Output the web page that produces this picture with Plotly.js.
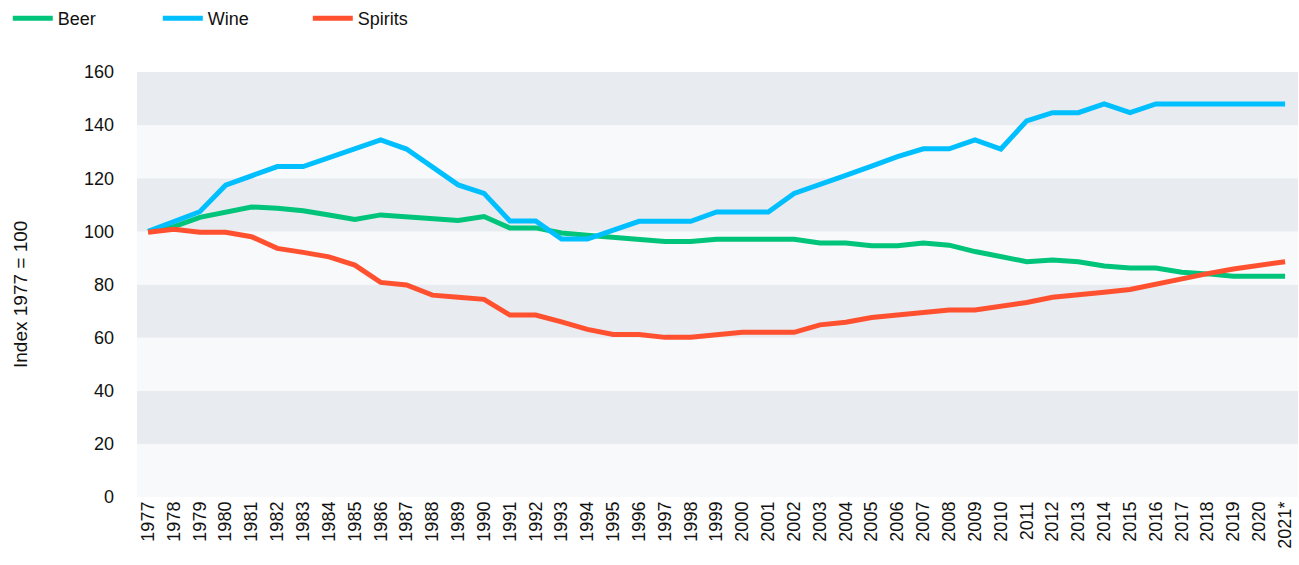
<!DOCTYPE html>
<html><head><meta charset="utf-8">
<script src="https://cdn.plot.ly/plotly-3.0.1.min.js"></script>
<style>html,body{margin:0;padding:0;background:#fff}#chart{width:1299px;height:565px}</style>
</head><body><div id="chart"></div>
<script>
const years = ["1977","1978","1979","1980","1981","1982","1983","1984","1985","1986","1987","1988","1989","1990","1991","1992","1993","1994","1995","1996","1997","1998","1999","2000","2001","2002","2003","2004","2005","2006","2007","2008","2009","2010","2011","2012","2013","2014","2015","2016","2017","2018","2019","2020","2021*"];
const beer = [100,101.8,105.3,107.4,109.2,108.7,107.8,106.2,104.5,106.2,105.6,104.7,104.1,105.6,101.3,101.3,99.4,98.5,97.8,97.2,96.2,96.2,97,97,97,97,95.6,95.6,94.6,94.6,95.6,94.8,92.4,90.3,88.6,89.2,88.6,87,86.2,86.2,84.6,84,83.1,83.1,83.1];
const wine = [100,103.8,107.4,117.4,120.9,124.4,124.4,127.9,131.1,134.4,131,124.4,117.5,114.3,103.9,103.9,97.1,97.1,100.5,103.8,103.8,103.8,107.3,107.3,107.3,114.3,117.5,121.1,124.6,128.1,131.1,131.1,134.4,131,141.6,144.7,144.7,148,144.7,148,148,148,148,148,148];
const spirits = [99.7,100.8,99.7,99.7,98,93.6,92.1,90.4,87.3,80.8,79.8,76,75.2,74.4,68.5,68.5,65.9,63.1,61.2,61.2,60.1,60.1,61.1,62,62,62,64.8,65.8,67.6,68.5,69.5,70.4,70.4,71.6,73.2,75.2,76,77.1,78.1,80.1,82.3,84.1,85.8,87.1,88.6];
const seriesNames = ["Beer","Wine","Spirits"];
const colors = ["#00C47A","#00BFFF","#FF512F"];
const yTicks = [0,20,40,60,80,100,120,140,160];
const yTitle = "Index 1977 = 100";

const vals = [beer, wine, spirits];
const traces = vals.map((v,i)=>({
  x: years, y: v, name: seriesNames[i], type:"scatter", mode:"lines",
  line:{color:colors[i], width:5}
}));

const shapes = [];
for (let i=0;i<yTicks.length-1;i++){
  shapes.push({type:"rect", xref:"paper", yref:"y", x0:0, x1:1, y0:yTicks[i], y1:yTicks[i+1],
    fillcolor: (i%2===0)?"#F7F9FB":"#E8EBF0", line:{width:0}, layer:"below"});
}

const layout = {
  width:1299, height:565,
  margin:{l:137, r:1, t:72, b:68},
  paper_bgcolor:"#fff", plot_bgcolor:"#fff",
  font:{family:"Liberation Sans, Arial, sans-serif", color:"#111", size:15},
  shapes: shapes,
  showlegend:true,
  legend:{orientation:"h", xref:"container", yref:"container", x:0.006, y:1, xanchor:"left", yanchor:"top",
    font:{size:18, color:"#111"}, entrywidth:95, entrywidthmode:"pixels", itemwidth:40, tracegroupgap:0},
  xaxis:{type:"category", range:[-0.43,44.5], tickangle:-90, showgrid:false, zeroline:false, showline:false,
    ticks:"", tickfont:{size:18, color:"#111"}, fixedrange:true},
  yaxis:{range:[0,160], tickvals:yTicks, showgrid:false, zeroline:false, showline:false, ticks:"",
    tickfont:{size:18, color:"#111"}, ticklabelstandoff:22},
  annotations:[{text:yTitle, textangle:-90, xref:"paper", yref:"paper", x:-0.1008, y:0.4776,
    xanchor:"center", yanchor:"middle", showarrow:false, font:{size:19, color:"#111"}}]
};
Plotly.newPlot("chart", traces, layout, {displayModeBar:false, staticPlot:true});
</script></body></html>
